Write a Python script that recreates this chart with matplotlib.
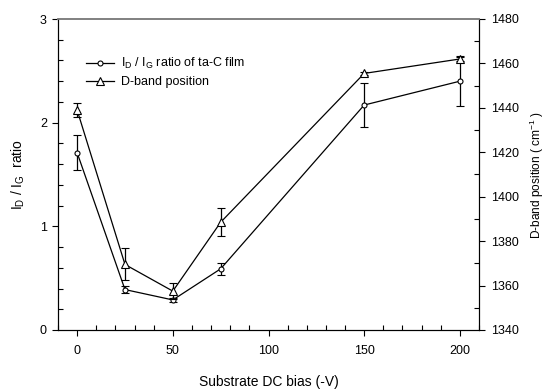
import matplotlib
matplotlib.use("Agg")
import matplotlib.pyplot as plt
from matplotlib.ticker import MultipleLocator
from matplotlib.lines import Line2D

plt.rcParams['font.family'] = ['Liberation Sans', 'DejaVu Sans']
plt.rcParams['mathtext.fontset'] = 'custom'
plt.rcParams['mathtext.rm'] = 'Liberation Sans'
plt.rcParams['mathtext.it'] = 'Liberation Sans'

bias = [0, 25, 50, 75, 150, 200]
ratio = [1.71, 0.39, 0.29, 0.59, 2.17, 2.40]
ratio_err = [0.17, 0.035, 0.02, 0.06, 0.21, 0.24]
dband = [1439, 1369.5, 1357.5, 1388.5, 1455.5, 1462]
dband_err = [3.3, 7.2, 3.5, 6.3, 0.8, 1.0]

label1 = r'I$_\mathregular{D}$ / I$_\mathregular{G}$ ratio of ta-C film'
label2 = 'D-band position'

fig = plt.figure(figsize=(5.47, 3.92), dpi=100)
ax = fig.add_axes([58/547, 1-330/392, (479-58)/547, (330-19)/392])
ax2 = ax.twinx()

ax.errorbar(bias, ratio, yerr=ratio_err, color='black', lw=0.9,
            marker='o', ms=3.6, mfc='white', mec='black', mew=0.8,
            capsize=2.8, elinewidth=0.9, capthick=0.9)
ax2.errorbar(bias, dband, yerr=dband_err, color='black', lw=0.9,
             marker='^', ms=5.8, mfc='white', mec='black', mew=0.8,
             capsize=2.8, elinewidth=0.9, capthick=0.9)

ax.set_xlim(-10, 210)
ax.set_ylim(0, 3)
ax2.set_ylim(1340, 1480)

ax.xaxis.set_major_locator(MultipleLocator(50))
ax.xaxis.set_minor_locator(MultipleLocator(10))
ax.yaxis.set_major_locator(MultipleLocator(1))
ax.yaxis.set_minor_locator(MultipleLocator(0.2))
ax2.yaxis.set_major_locator(MultipleLocator(20))
ax2.yaxis.set_minor_locator(MultipleLocator(10))

for a in (ax, ax2):
    a.tick_params(which='major', direction='out', length=4, width=0.8, labelsize=9)
    a.tick_params(which='minor', direction='in', length=3.5, width=0.8)
ax.tick_params(axis='x', which='major', pad=7)
ax.tick_params(axis='y', which='major', pad=4)
ax2.tick_params(axis='y', which='major', pad=5)

for a in (ax, ax2):
    a.spines['top'].set_color('#808080')
    a.spines['top'].set_linewidth(1.2)

ax.set_xlabel('Substrate DC bias (-V)', fontsize=10, labelpad=13)
ax.set_ylabel(r'I$_\mathregular{D}$ / I$_\mathregular{G}$  ratio', fontsize=10, labelpad=9)
ax2.set_ylabel(r'D-band position ( cm$^\mathregular{-1}$ )', fontsize=8.6, labelpad=6)

h1 = Line2D([], [], color='black', lw=0.9, marker='o', ms=3.6, mfc='white', mec='black', mew=0.8)
h2 = Line2D([], [], color='black', lw=0.9, marker='^', ms=5.8, mfc='white', mec='black', mew=0.8)
ax.legend([h1, h2], [label1, label2], loc='upper left',
          bbox_to_anchor=(0.067, 0.88), borderaxespad=0, borderpad=0,
          frameon=False, fontsize=9,
          handlelength=2.2, handletextpad=0.55, labelspacing=0.4)

fig.savefig('out.png', dpi=100)
